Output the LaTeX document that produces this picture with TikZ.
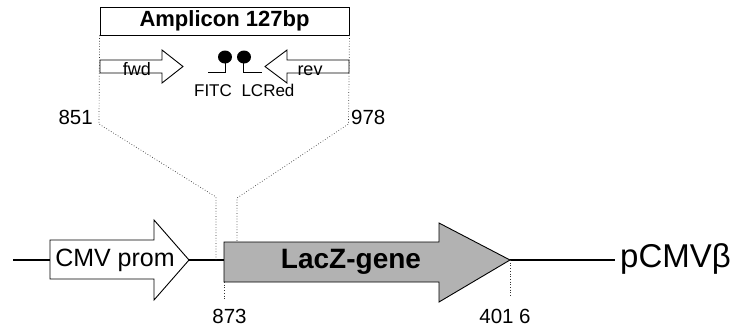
\documentclass[tikz,border=0pt]{standalone}
\usepackage{fontspec}
\setmainfont{Liberation Sans}
\begin{document}
\begin{tikzpicture}[x=1pt,y=-1pt,
  outline/.style={draw=black,line width=0.9pt},
  dotline/.style={draw=black!80,line width=0.7pt,dotted},
  mainline/.style={draw=black,line width=2pt},
  lbl/.style={inner sep=0pt,font=\fontsize{20.5}{22}\selectfont},
  small/.style={inner sep=0pt,font=\fontsize{18}{20}\selectfont}]
\useasboundingbox (0,0) rectangle (753,330);
% main line
\coordinate (ls) at (13,260);
\coordinate (cmvtip) at (189,260);
\coordinate (laczL) at (224,260);
\coordinate (lacztip) at (510,260);
\coordinate (le) at (615,260);
\draw[mainline] (ls) -- (50,260);
\draw[mainline] (cmvtip) -- (laczL);
\draw[mainline] (lacztip) -- (le);
% CMV prom arrow
\draw[outline,fill=white] (50,240) -- (154,240) -- (154,220) -- (cmvtip) -- (154,300) -- (154,279) -- (50,279) -- cycle;
\node[inner sep=0pt,font=\fontsize{25}{27}\selectfont] (cmv) at (115,260) {CMV prom};
% LacZ arrow
\draw[outline,fill=black!30] (224,242) -- (439,242) -- (439,223) -- (lacztip) -- (439,302) -- (439,282) -- (224,282) -- cycle;
\node[inner sep=0pt,font=\bfseries\fontsize{28}{30}\selectfont] (lacz) at (351,262) {LacZ-gene};
\node[anchor=west,inner sep=0pt,font=\fontsize{33}{35}\selectfont] (pcmv) at (620,259) {pCMVβ};
% amplicon box
\node[outline,minimum width=249pt,minimum height=28pt,inner sep=0pt,font=\bfseries\fontsize{22}{24}\selectfont] (amp) at (224.5,21) {Amplicon 127bp};
% dotted connectors
\coordinate (b1) at (99,124);
\coordinate (b2) at (348.5,124);
\coordinate (d1) at (216,197);
\coordinate (d2) at (237,198);
\draw[dotline] (amp.south west) -- (b1) -- (d1) -- (216,260);
\draw[dotline] (amp.south east) -- (b2) -- (d2) -- (237,242);
\draw[dotline] (224,282) -- (224,300);
\draw[dotline] (lacztip) -- (510,297);
% numbers
\node[lbl,anchor=base east] (n851) at (93,124) {851};
\node[lbl,anchor=base west] (n978) at (351,124) {978};
\node[lbl,anchor=base] (n873) at (229.5,323) {873};
\node[lbl,anchor=base] (n4016) at (505,323) {401 6};
% primers
\draw[outline,fill=white] (100,60) -- (162,60) -- (162,50) -- (183,66.5) -- (162,83) -- (162,73) -- (100,73) -- cycle;
\draw[outline,fill=white] (349,60) -- (287,60) -- (287,50) -- (265,66.5) -- (287,83) -- (287,73) -- (349,73) -- cycle;
\node[small,anchor=base] (fwd) at (137,75) {fwd};
\node[small,anchor=base] (rev) at (310,75) {rev};
% probes
\fill (225,57) ellipse (7 and 6.5);
\fill (244,57) ellipse (7 and 6.5);
\draw[line width=0.9pt] (225,60) -- (225,72.5) -- (208,72.5);
\draw[line width=0.9pt] (243,60) -- (243,72.5) -- (262,72.5);
\node[inner sep=0pt,font=\fontsize{17}{19}\selectfont,anchor=base] (fitc) at (213,96) {FITC};
\node[inner sep=0pt,font=\fontsize{17}{19}\selectfont,anchor=base] (lcred) at (268,96) {LCRed};
\end{tikzpicture}
\end{document}
